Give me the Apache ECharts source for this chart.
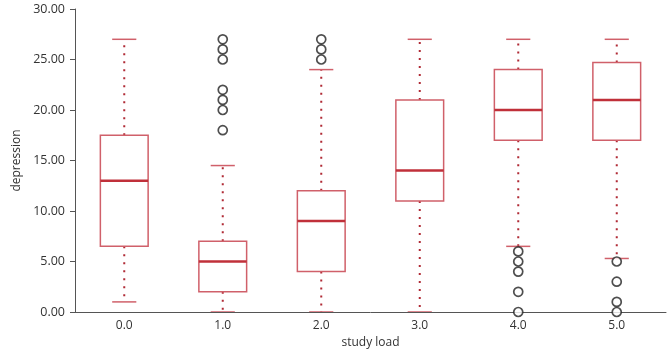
<!DOCTYPE html>
<html><head><meta charset="utf-8">
<script src="https://cdn.jsdelivr.net/npm/echarts@6/dist/echarts.min.js"></script>
<style>html,body{margin:0;padding:0;background:#fff}#c{width:670px;height:351px}</style>
</head><body><div id="c"></div>
<script>
var categories = ['0.0','1.0','2.0','3.0','4.0','5.0'];
// [lowerWhisker, Q1, median, Q3, upperWhisker]
var boxStats = [
  [1, 6.5, 13, 17.5, 27],
  [0, 2, 5, 7, 14.5],
  [0, 4, 9, 12, 24],
  [0, 11, 14, 21, 27],
  [6.5, 17, 20, 24, 27],
  [5.3, 17, 21, 24.7, 27]
];
var outliers = [
  [1, 27], [1, 26], [1, 25], [1, 22], [1, 21], [1, 20], [1, 18],
  [2, 27], [2, 26], [2, 25],
  [4, 6], [4, 5], [4, 4], [4, 2], [4, 0],
  [5, 5], [5, 3], [5, 1], [5, 0]
];
var yTicks = [0, 5, 10, 15, 20, 25, 30];

var boxData = boxStats.map(function(s, i){ return [i].concat(s); });
var FONT = 'Open Sans';
var chart = echarts.init(document.getElementById('c'), null, {renderer:'canvas'});
chart.setOption({
  animation: false,
  grid: {left: 75, right: 4, top: 9, bottom: 39, containLabel: false, outerBoundsMode: 'none'},
  xAxis: {
    type: 'category', data: categories, boundaryGap: true, z: 2.5,
    name: 'study load', nameLocation: 'middle', nameGap: 24,
    nameTextStyle: {color: '#333', fontSize: 12, fontFamily: FONT},
    axisLine: {lineStyle: {color: '#555', width: 1}},
    axisTick: {alignWithLabel: true, length: 4, lineStyle: {color: '#555'}},
    axisLabel: {color: '#333', fontSize: 12, fontFamily: FONT, margin: 8},
    splitLine: {show: false}
  },
  yAxis: {
    type: 'value', min: yTicks[0], max: yTicks[yTicks.length-1], interval: 5,
    name: 'depression', nameLocation: 'middle', nameGap: 51,
    nameTextStyle: {color: '#333', fontSize: 12, fontFamily: FONT},
    axisLine: {show: true, lineStyle: {color: '#555', width: 1}},
    axisTick: {show: true, length: 5, lineStyle: {color: '#555'}},
    axisLabel: {color: '#333', fontSize: 12.5, fontFamily: FONT, margin: 10,
      formatter: function(v){ return v.toFixed(2); }},
    splitLine: {show: false}
  },
  series: [
    {
      type: 'custom',
      data: boxData,
      encode: {x: 0, y: [1,2,3,4,5]},
      renderItem: function(params, api){
        var c = api.value(0);
        var lo = api.coord([c, api.value(1)]);
        var q1 = api.coord([c, api.value(2)]);
        var med = api.coord([c, api.value(3)]);
        var q3 = api.coord([c, api.value(4)]);
        var hi = api.coord([c, api.value(5)]);
        var band = api.size([1, 0])[0];
        var bw = band * 0.485;
        var cw = band * 0.245;
        var x = lo[0];
        var dot = {stroke: '#b02a35', lineWidth: 2, lineDash: [2, 6]};
        var boxStyle = {stroke: '#d0606a', lineWidth: 1.5, fill: 'rgba(255,255,255,0)'};
        var capStyle = {stroke: '#d0606a', lineWidth: 1.5};
        return {type: 'group', children: [
          {type: 'line', shape: {x1: x, y1: q3[1], x2: x, y2: hi[1]}, style: dot},
          {type: 'line', shape: {x1: x, y1: q1[1], x2: x, y2: lo[1]}, style: dot},
          {type: 'line', shape: {x1: x - cw/2, y1: hi[1], x2: x + cw/2, y2: hi[1]}, style: capStyle},
          {type: 'line', shape: {x1: x - cw/2, y1: lo[1], x2: x + cw/2, y2: lo[1]}, style: capStyle},
          {type: 'rect', shape: {x: x - bw/2, y: q3[1], width: bw, height: q1[1] - q3[1]}, style: boxStyle},
          {type: 'line', shape: {x1: x - bw/2, y1: med[1], x2: x + bw/2, y2: med[1]}, style: {stroke: '#c0303a', lineWidth: 2.5}}
        ]};
      },
      z: 2
    },
    {
      type: 'scatter',
      data: outliers,
      symbol: 'circle', symbolSize: 9,
      itemStyle: {color: '#fff', borderColor: '#222', borderWidth: 1.7},
      z: 3
    }
  ]
});
</script></body></html>
